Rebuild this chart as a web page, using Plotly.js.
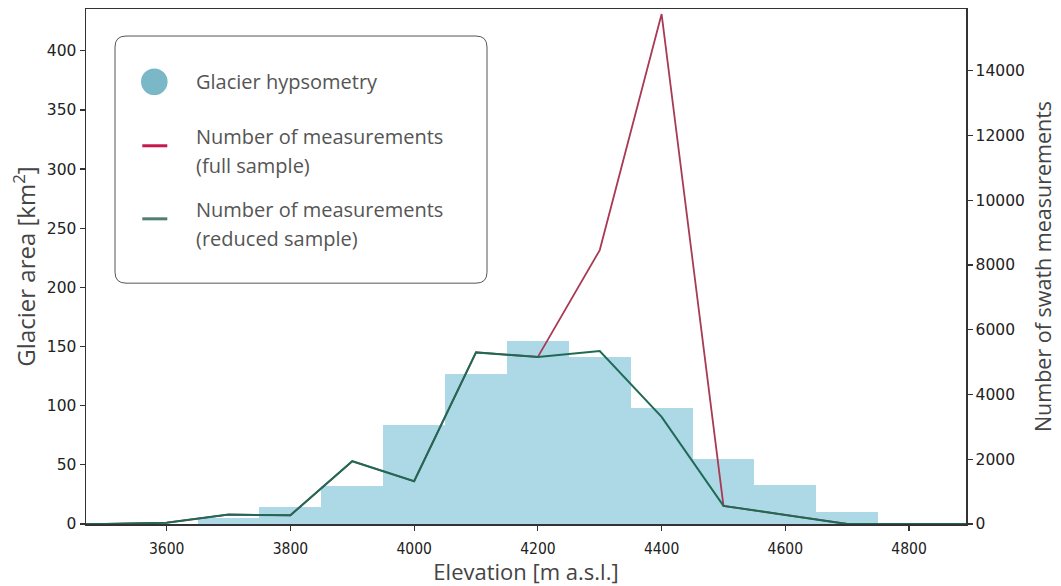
<!DOCTYPE html>
<html>
<head>
<meta charset="utf-8">
<script src="https://cdn.plot.ly/plotly-3.0.1.min.js"></script>
<style>html,body{margin:0;padding:0;background:#fff;}#chart{width:1061px;height:586px;}</style>
</head>
<body>
<div id="chart"></div>
<script>
// ---- data ----
const binCenters = [3700, 3800, 3900, 4000, 4100, 4200, 4300, 4400, 4500, 4600, 4700];
const glacierArea = [5, 14.5, 32.5, 84, 127, 155, 141, 98, 55, 33, 10.5];

const lineElev = [3400, 3500, 3600, 3700, 3800, 3900, 4000, 4100, 4200, 4300, 4400, 4500, 4600, 4700, 4800, 4900];
const measFull =    [0, 0, 40, 290, 270, 1940, 1320, 5300, 5160, 8460, 15750, 560, 280, 0, 0, 0];
const measReduced = [0, 0, 40, 290, 270, 1940, 1320, 5300, 5160, 5340, 3310, 560, 280, 0, 0, 0];

const xTicks = [3600, 3800, 4000, 4200, 4400, 4600, 4800];
const yLeftTicks = [0, 50, 100, 150, 200, 250, 300, 350, 400];
const yRightTicks = [0, 2000, 4000, 6000, 8000, 10000, 12000, 14000];

const legendLabels = ["Glacier hypsometry", "Number of measurements", "(full sample)", "Number of measurements", "(reduced sample)"];

// ---- plot geometry (pixels) ----
const W = 1061, H = 586;
const L = 86, R = 966, T = 9, B = 523.7;
const px = v => (v - L) / (R - L);
const py = v => (B - v) / (B - T);

const traces = [
  {
    type: 'bar', x: binCenters, y: glacierArea, width: 100,
    marker: {color: '#add8e6', line: {width: 0}},
    yaxis: 'y', showlegend: false, hoverinfo: 'x+y'
  },
  {
    type: 'scatter', mode: 'lines', x: lineElev, y: measFull, yaxis: 'y2',
    line: {color: '#a83a55', width: 1.8}, showlegend: false
  },
  {
    type: 'scatter', mode: 'lines', x: lineElev, y: measReduced, yaxis: 'y2',
    line: {color: '#1f6a55', width: 2}, showlegend: false
  }
];

const tickFont = {family: 'DejaVu Sans, sans-serif', size: 15.5, color: '#222'};
const legFont = {family: 'Open Sans, sans-serif', size: 20, color: '#555'};

function legendText(text, xpx, ypx) {
  return {xref: 'paper', yref: 'paper', x: px(xpx), y: py(ypx), xanchor: 'left', yanchor: 'middle',
          text: text, showarrow: false, font: legFont};
}

// rounded legend box
const bx0 = 115, bx1 = 487, by0 = 36, by1 = 283, rr = 11;
const boxPath = `M ${px(bx0 + rr)} ${py(by0)} L ${px(bx1 - rr)} ${py(by0)} Q ${px(bx1)} ${py(by0)} ${px(bx1)} ${py(by0 + rr)} ` +
  `L ${px(bx1)} ${py(by1 - rr)} Q ${px(bx1)} ${py(by1)} ${px(bx1 - rr)} ${py(by1)} ` +
  `L ${px(bx0 + rr)} ${py(by1)} Q ${px(bx0)} ${py(by1)} ${px(bx0)} ${py(by1 - rr)} ` +
  `L ${px(bx0)} ${py(by0 + rr)} Q ${px(bx0)} ${py(by0)} ${px(bx0 + rr)} ${py(by0)} Z`;

const layout = {
  width: W, height: H,
  margin: {l: L, r: W - R, t: T, b: H - B, pad: 0},
  paper_bgcolor: '#fff', plot_bgcolor: '#fff',
  bargap: 0,
  showlegend: false,
  xaxis: {
    range: [3469.6, 4892], tickvals: xTicks, ticks: 'outside', ticklen: 5, tickwidth: 1.2, tickcolor: '#333',
    showline: true, linecolor: '#333', linewidth: 1.5, mirror: true, showgrid: false, zeroline: false,
    ticklabelstandoff: 5,
    tickfont: {family: 'DejaVu Sans Condensed, Liberation Sans Narrow, sans-serif', size: 15.5, color: '#222'},
    title: {text: 'Elevation [m a.s.l.]', font: {family: 'Open Sans, sans-serif', size: 22, color: '#444'}, standoff: 7}
  },
  yaxis: {
    range: [0, 435.3], tickvals: yLeftTicks, ticks: 'outside', ticklen: 5, tickwidth: 1.2, tickcolor: '#333',
    showline: true, linecolor: '#333', linewidth: 1.5, showgrid: false, zeroline: false,
    tickfont: tickFont,
    title: {text: 'Glacier area [km<sup>2</sup>]', font: {family: 'Open Sans, sans-serif', size: 24, color: '#444'}, standoff: 4}
  },
  yaxis2: {
    overlaying: 'y', side: 'right', range: [0, 15906], tickvals: yRightTicks, tickformat: 'd',
    ticks: 'outside', ticklen: 5, tickwidth: 1.2, tickcolor: '#333',
    showline: true, linecolor: '#333', linewidth: 1.5, showgrid: false, zeroline: false,
    tickfont: tickFont,
    title: {text: 'Number of swath measurements', font: {family: 'Open Sans, sans-serif', size: 21.5, color: '#444'}, standoff: 12}
  },
  shapes: [
    {type: 'path', xref: 'paper', yref: 'paper', path: boxPath, line: {color: '#555', width: 1}, fillcolor: 'rgba(255,255,255,0.9)', layer: 'above'},
    {type: 'circle', xref: 'paper', yref: 'paper', xsizemode: 'pixel', ysizemode: 'pixel',
     xanchor: px(154.3), yanchor: py(81.7), x0: -13.3, x1: 13.3, y0: -13.3, y1: 13.3,
     fillcolor: '#7ab7c7', line: {width: 0}, layer: 'above'},
    {type: 'line', xref: 'paper', yref: 'paper', x0: px(142.3), x1: px(167.3), y0: py(145.7), y1: py(145.7),
     line: {color: '#c8174c', width: 3}, layer: 'above'},
    {type: 'line', xref: 'paper', yref: 'paper', x0: px(142.3), x1: px(167.3), y0: py(218.7), y1: py(218.7),
     line: {color: '#4f7d72', width: 3}, layer: 'above'}
  ],
  annotations: [
    legendText(legendLabels[0], 194, 81.7),
    legendText(legendLabels[1], 194, 136),
    legendText(legendLabels[2], 194, 165),
    legendText(legendLabels[3], 194, 209),
    legendText(legendLabels[4], 194, 238)
  ]
};

Plotly.newPlot('chart', traces, layout, {displayModeBar: false, staticPlot: true});
</script>
</body>
</html>
